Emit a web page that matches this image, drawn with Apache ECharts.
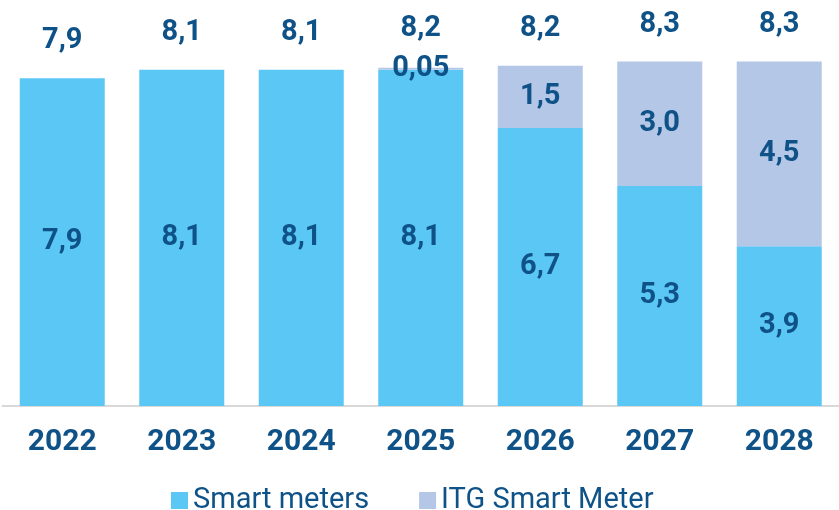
<!DOCTYPE html>
<html>
<head>
<meta charset="utf-8">
<script src="https://cdn.jsdelivr.net/npm/echarts@6/dist/echarts.min.js"></script>
<style>
  html, body { margin: 0; padding: 0; background: #fff; }
  #chart { width: 839px; height: 510px; }
</style>
</head>
<body>
<div id="chart"></div>
<script>
// data
var years = ['2022', '2023', '2024', '2025', '2026', '2027', '2028'];
var smart_meters = [7.9, 8.1, 8.1, 8.1, 6.7, 5.3, 3.85];
var itg_meters = [0, 0, 0, 0.05, 1.5, 3.0, 4.45];
var totals = [7.9, 8.1, 8.1, 8.2, 8.2, 8.3, 8.3];

var text_color = '#0F5287';
var font = 'Roboto';

function fmt(v) {
    if (v < 0.1) return v.toFixed(2).replace('.', ',');
    return (Math.round(v * 10) / 10).toFixed(1).replace('.', ',');
}

var inside_label = {
    show: true,
    position: 'inside',
    color: text_color,
    fontFamily: font,
    fontWeight: 'bold',
    fontSize: 29,
    formatter: function (p) {
        if (!p.value) return '';
        return fmt(p.value);
    }
};

var option = {
    animation: false,
    backgroundColor: '#fff',
    grid: {
        left: 2.5,
        width: 840,
        top: 32.5,
        height: 373.5
    },
    legend: {
        data: ['Smart meters', 'ITG Smart Meter'],
        left: 166,
        top: 481,
        icon: 'rect',
        itemWidth: 17,
        itemHeight: 17,
        itemGap: 50,
        textStyle: {
            color: text_color,
            fontFamily: font,
            fontSize: 29
        }
    },
    xAxis: {
        type: 'category',
        data: years,
        axisTick: {show: false},
        axisLine: {lineStyle: {color: '#D9D9D9', width: 2}},
        axisLabel: {
            color: text_color,
            fontFamily: font,
            fontWeight: 'bold',
            fontSize: 30,
            margin: 21
        }
    },
    yAxis: {
        type: 'value',
        min: 0,
        max: 9,
        show: false,
        splitLine: {show: false}
    },
    series: [
        {
            name: 'Smart meters',
            type: 'bar',
            stack: 'total',
            barWidth: 85,
            itemStyle: {color: '#5BC7F4'},
            label: inside_label,
            data: smart_meters
        },
        {
            name: 'ITG Smart Meter',
            type: 'bar',
            stack: 'total',
            barWidth: 85,
            itemStyle: {color: '#B4C7E7'},
            label: inside_label,
            data: itg_meters
        },
        {
            name: 'total',
            type: 'scatter',
            symbolSize: 1,
            itemStyle: {color: 'rgba(255,255,255,0)', opacity: 1},
            emphasis: {disabled: true},
            label: {
                show: true,
                position: 'top',
                distance: 22,
                opacity: 1,
                color: text_color,
                fontFamily: font,
                fontWeight: 'bold',
                fontSize: 29,
                formatter: function (p) { return fmt(p.value); }
            },
            data: totals
        }
    ]
};

var myChart = echarts.init(document.getElementById('chart'));
myChart.setOption(option);
</script>
</body>
</html>
